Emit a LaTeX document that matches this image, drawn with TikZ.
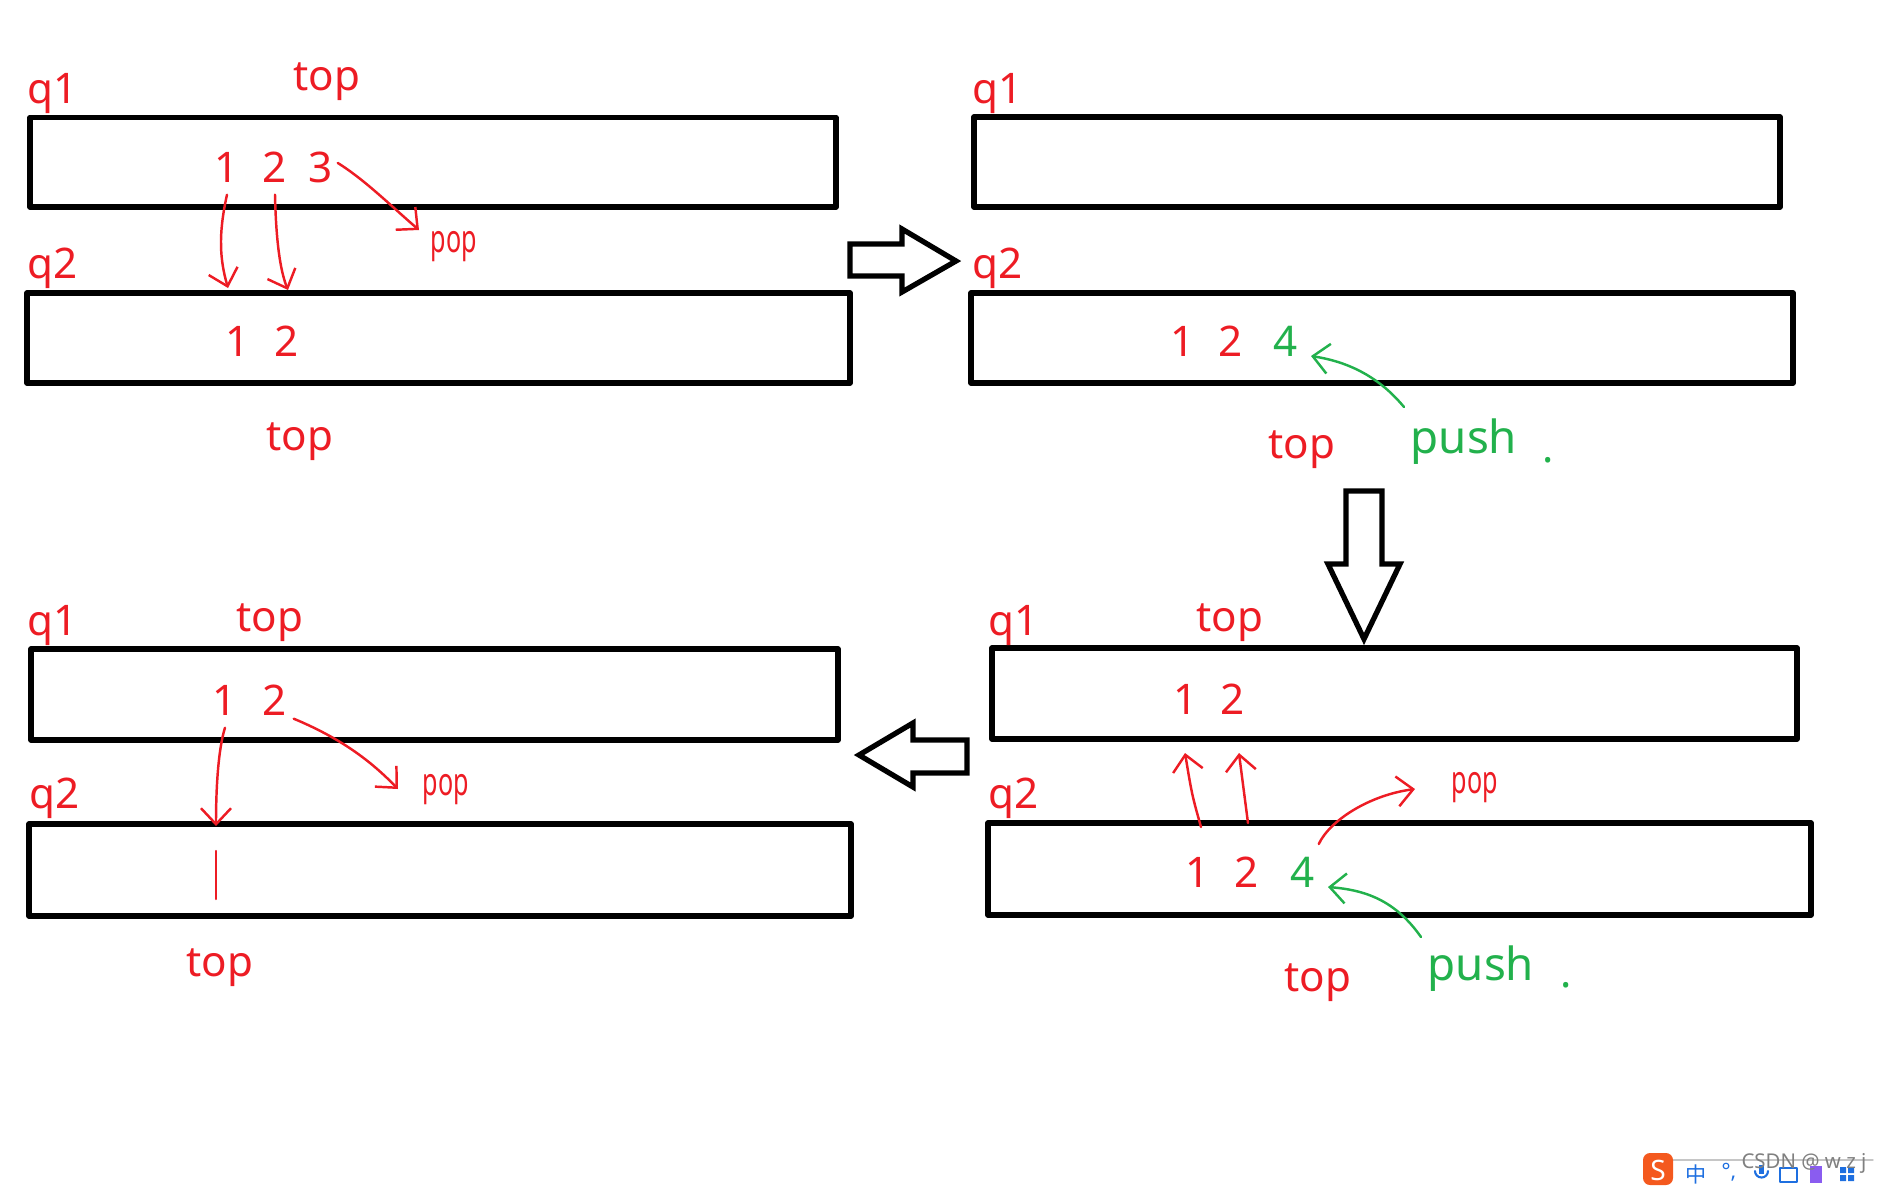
\documentclass[tikz,border=0pt]{standalone}
\usepackage{fontspec}
\setmainfont{Noto Sans}
\newfontfamily\cjkfont{Noto Sans CJK SC}
\usepackage{graphicx}
\usetikzlibrary{arrows.meta,calc,positioning}
\definecolor{qred}{HTML}{ED1C24}
\definecolor{qgreen}{HTML}{22B14C}
\definecolor{sogou}{HTML}{F4591E}
\definecolor{sgblue}{HTML}{1E6FE0}
\definecolor{sgpurple}{HTML}{8A5CF0}
\tikzset{
  box/.style={draw,line width=1.6pt},
  lbl/.style={inner sep=0pt,anchor=base,text=qred,font=\fontsize{12}{14}\selectfont},
  grn/.style={lbl,text=qgreen},
  redpen/.style={draw=qred,line width=0.7pt},
  greenpen/.style={draw=qgreen,line width=0.7pt},
  barb/.style={-{Straight Barb[length=1.6mm,width=3mm]}},
  popword/.style={inner sep=0pt,anchor=north west,text=qred,font=\fontsize{11}{12}\selectfont},
  pushword/.style={inner sep=0pt,anchor=north west,text=qgreen,font=\fontsize{13}{14}\selectfont},
  bigarrow/.style={draw,line width=1.5pt,line join=miter}
}

\begin{document}
\begin{tikzpicture}[line join=round, line cap=round]
\useasboundingbox (0,0) rectangle (18.9,-11.85);
% first step: pop 3 out of q1
\draw[box] (0.30,-1.175) rectangle (8.36,-2.07);
\draw[box] (0.27,-2.93) rectangle (8.50,-3.83);
\node[lbl,anchor=base west] (aq1) at (0.27,-1.03) {q1};
\node[lbl] (atop1) at (3.27,-0.90) {top};
\node[lbl] (a11) at (2.27,-1.82) {1};
\node[lbl] (a12) at (2.75,-1.82) {2};
\node[lbl] (a13) at (3.21,-1.82) {3};
\node[lbl,anchor=base west] (aq2) at (0.27,-2.78) {q2};
\node[lbl] (a21) at (2.38,-3.56) {1};
\node[lbl] (a22) at (2.87,-3.56) {2};
\node[lbl] (atop2) at (3.00,-4.50) {top};
\node[popword] (apop) at (4.30,-2.31) {\scalebox{0.65}[1]{pop}};
\coordinate (ain1) at (2.28,-2.88);
\coordinate (ain2) at (2.88,-2.90);
\coordinate (aout) at (4.19,-2.30);
\draw[redpen,barb] ([yshift=-1.2mm]a11.south) .. controls (2.18,-2.35) and (2.20,-2.60) .. (ain1);
\draw[redpen,barb] ([yshift=-1.2mm]a12.south) .. controls (2.76,-2.40) and (2.80,-2.70) .. (ain2);
\draw[redpen,barb] ([xshift=0.4mm,yshift=0.4mm]a13.east) .. controls (3.65,-1.80) and (3.90,-2.05) .. (aout);
% to the right
\draw[bigarrow] (8.50,-2.44) -- (9.02,-2.44) -- (9.02,-2.29) -- (9.56,-2.61) -- (9.02,-2.92) -- (9.02,-2.76) -- (8.50,-2.76) -- cycle;

% second step: push 4 into q2
\draw[box] (9.74,-1.17) rectangle (17.80,-2.07);
\draw[box] (9.71,-2.93) rectangle (17.93,-3.83);
\node[lbl,anchor=base west] (bq1) at (9.72,-1.03) {q1};
\node[lbl,anchor=base west] (bq2) at (9.72,-2.78) {q2};
\node[lbl] (b21) at (11.83,-3.56) {1};
\node[lbl] (b22) at (12.31,-3.56) {2};
\node[grn] (b24) at (12.86,-3.56) {4};
\node[lbl] (btop) at (13.02,-4.58) {top};
\node[pushword] (bpush) at (14.10,-4.18) {push};
\node[grn] (bdot) at (15.48,-4.62) {.};
\coordinate (bin) at (13.11,-3.56);
\draw[greenpen,barb] ([xshift=-0.6mm,yshift=1.1mm]bpush.north west) .. controls (13.80,-3.78) and (13.50,-3.62) .. (bin);
% down
\draw[bigarrow] (13.46,-4.91) -- (13.82,-4.91) -- (13.82,-5.64) -- (14.00,-5.64) -- (13.64,-6.39) -- (13.28,-5.64) -- (13.46,-5.64) -- cycle;

% third step: pop 4, move 1 2 back to q1
\draw[box] (9.92,-6.48) rectangle (17.97,-7.39);
\draw[box] (9.88,-8.23) rectangle (18.11,-9.15);
\node[lbl,anchor=base west] (dq1) at (9.88,-6.35) {q1};
\node[lbl] (dtop1) at (12.30,-6.315) {top};
\node[lbl] (d11) at (11.86,-7.14) {1};
\node[lbl] (d12) at (12.33,-7.14) {2};
\node[lbl,anchor=base west] (dq2) at (9.88,-8.08) {q2};
\node[lbl] (d21) at (11.98,-8.87) {1};
\node[lbl] (d22) at (12.47,-8.87) {2};
\node[grn] (d24) at (13.03,-8.87) {4};
\node[lbl] (dtop2) at (13.18,-9.91) {top};
\node[popword] (dpop) at (14.51,-7.72) {\scalebox{0.65}[1]{pop}};
\node[pushword] (dpush) at (14.27,-9.45) {push};
\node[grn] (ddot) at (15.66,-9.87) {.};
\coordinate (dup1) at (11.85,-7.53);
\coordinate (dup2) at (12.39,-7.53);
\coordinate (dout) at (14.15,-7.89);
\coordinate (din) at (13.28,-8.87);
\draw[redpen,barb] (12.01,-8.27) .. controls (11.92,-7.95) .. (dup1);
\draw[redpen,barb] (12.48,-8.23) .. controls (12.43,-7.90) .. (dup2);
\draw[redpen,barb] ([xshift=0.3mm,yshift=1.2mm]d24.north east) .. controls (13.30,-8.20) and (13.70,-7.95) .. (dout);
\draw[greenpen,barb] ([xshift=-0.6mm,yshift=0.8mm]dpush.north west) .. controls (13.95,-9.00) and (13.65,-8.90) .. (din);
% to the left
\draw[bigarrow] (9.67,-7.40) -- (9.13,-7.40) -- (9.13,-7.23) -- (8.59,-7.55) -- (9.13,-7.87) -- (9.13,-7.73) -- (9.67,-7.73) -- cycle;

% last step: pop 2, 1 goes to q2
\draw[box] (0.31,-6.49) rectangle (8.38,-7.40);
\draw[box] (0.29,-8.24) rectangle (8.51,-9.16);
\node[lbl,anchor=base west] (cq1) at (0.27,-6.35) {q1};
\node[lbl] (ctop1) at (2.70,-6.315) {top};
\node[lbl] (c11) at (2.25,-7.15) {1};
\node[lbl] (c12) at (2.75,-7.15) {2};
\node[lbl,anchor=base west] (cq2) at (0.29,-8.08) {q2};
\node[lbl] (ctop2) at (2.20,-9.76) {top};
\node[popword] (cpop) at (4.22,-7.74) {\scalebox{0.65}[1]{pop}};
\coordinate (cin) at (2.16,-8.26);
\coordinate (cout) at (3.98,-7.89);
\draw[redpen,barb] ([yshift=-1.2mm]c11.south) .. controls (2.18,-7.50) and (2.16,-7.90) .. (cin);
\draw[redpen,barb] ([xshift=0.6mm,yshift=-0.3mm]c12.south east) .. controls (3.40,-7.38) and (3.70,-7.60) .. (cout);
\draw[redpen] (2.16,-8.51) -- (2.16,-8.99);

% watermark
\draw[gray!45,line width=0.4pt] (16.73,-11.60) -- (18.73,-11.60);
\fill[sogou,rounded corners=2pt] (16.43,-11.53) rectangle (16.73,-11.85);
\node[text=white,font=\bfseries\fontsize{8}{8}\selectfont,inner sep=0pt] (sglogo) at (16.58,-11.70) {S};
\node[text=sgblue,font=\cjkfont\fontsize{6}{6}\selectfont,inner sep=0pt] (sgzh) at (16.96,-11.74) {中};
\node[text=sgblue,font=\bfseries\fontsize{6}{6}\selectfont,inner sep=0pt] (sgdot) at (17.29,-11.72) {°,};
\fill[sgblue] (17.59,-11.65) rectangle (17.64,-11.74);
\draw[sgblue,line width=0.6pt] (17.55,-11.71) arc (180:360:0.065);
\draw[sgblue,line width=0.5pt] (17.80,-11.68) rectangle (17.97,-11.82);
\fill[sgpurple] (18.10,-11.66) rectangle (18.22,-11.83);
\fill[sgblue] (18.40,-11.67) rectangle (18.46,-11.73) (18.48,-11.67) rectangle (18.54,-11.73)
  (18.40,-11.75) rectangle (18.46,-11.81) (18.48,-11.75) rectangle (18.54,-11.81);
\node[text=gray,font=\fontsize{5.8}{6}\selectfont,inner sep=0pt] (mark) at (18.04,-11.63) {CSDN @ w z j};
\end{tikzpicture}
\end{document}
